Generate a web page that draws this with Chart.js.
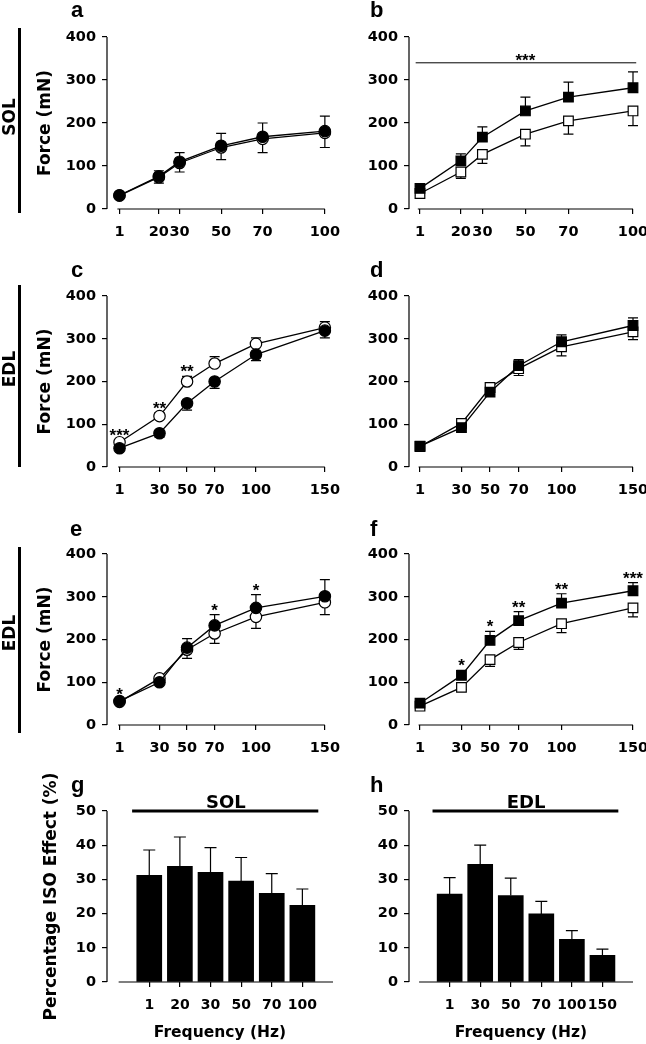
<!DOCTYPE html>
<html>
<head>
<meta charset="utf-8">
<script src="https://cdn.jsdelivr.net/npm/chart.js@4.4.0/dist/chart.umd.min.js"></script>
<style>
html, body { margin: 0; padding: 0; background: #fff; overflow: hidden; }
#fig { position: relative; width: 646px; height: 1044px; overflow: hidden; }
canvas { position: absolute; }
.lt { position: absolute; font: bold 22px "Liberation Sans", Arial, sans-serif; line-height: 22px; }
.side { position: absolute; font: bold 17px "DejaVu Sans"; line-height: 1; white-space: nowrap;
        transform: translate(-50%, -50%) rotate(-90deg); }
.rule { position: absolute; left: 18px; width: 3px; background: #000; }
</style>
</head>
<body>
<div id="fig">
  <canvas id="cA" width="350" height="250" style="left:0;top:0"></canvas>
  <canvas id="cB" width="340" height="250" style="left:323px;top:0"></canvas>
  <canvas id="cC" width="350" height="249" style="left:0;top:259px"></canvas>
  <canvas id="cD" width="340" height="249" style="left:323px;top:259px"></canvas>
  <canvas id="cE" width="350" height="249" style="left:0;top:517px"></canvas>
  <canvas id="cF" width="340" height="249" style="left:323px;top:517px"></canvas>
  <canvas id="cG" width="350" height="270" style="left:0;top:774px"></canvas>
  <canvas id="cH" width="340" height="270" style="left:323px;top:774px"></canvas>

  <div class="lt" style="left:71px;top:-1px">a</div>
  <div class="lt" style="left:370px;top:-1px">b</div>
  <div class="lt" style="left:71px;top:259px">c</div>
  <div class="lt" style="left:370px;top:259px">d</div>
  <div class="lt" style="left:70px;top:518px">e</div>
  <div class="lt" style="left:370px;top:518px">f</div>
  <div class="lt" style="left:71px;top:774px">g</div>
  <div class="lt" style="left:370px;top:774px">h</div>

  <div class="rule" style="top:28px;height:185px"></div>
  <div class="rule" style="top:285px;height:182px"></div>
  <div class="rule" style="top:547px;height:186px"></div>
  <div class="side" style="left:9px;top:117px">SOL</div>
  <div class="side" style="left:9px;top:369px">EDL</div>
  <div class="side" style="left:9px;top:633px">EDL</div>
</div>

<script>
// stimulation frequencies (Hz)
const solFreq = [1, 20, 30, 50, 70, 100];
const edlFreq = [1, 30, 50, 70, 100, 150];

// a - SOL, circles
const aFilled = [32, 76, 110, 147, 168, 181];
const aFilledSem = [4, 13, 21, 29, 32, 35];
const aOpen = [31, 74, 107, 143, 163, 177];
const aOpenSem = [4, 14, 21, 28, 32, 34];

// b - SOL, squares
const bFilled = [48, 112, 167, 228, 260, 282];
const bFilledSem = [5, 16, 24, 32, 35, 37];
const bOpen = [36, 86, 127, 174, 205, 228];
const bOpenSem = [4, 15, 21, 27, 31, 34];

// c - EDL, circles
const cOpen = [58, 119, 200, 242, 288, 326];
const cOpenSem = [5, 8, 12, 16, 14, 14];
const cFilled = [44, 79, 149, 200, 263, 319];
const cFilledSem = [4, 9, 16, 16, 14, 17];
const cStars = ['***', '**', '**', '', '', ''];

// d - EDL, squares
const dFilled = [49, 92, 175, 237, 293, 331];
const dFilledSem = [5, 6, 15, 14, 16, 18];
const dOpen = [48, 102, 186, 230, 281, 316];
const dOpenSem = [5, 6, 16, 16, 21, 18];

// e - EDL, circles
const eFilled = [56, 100, 181, 233, 274, 301];
const eFilledSem = [4, 5, 21, 25, 31, 39];
const eOpen = [54, 109, 176, 214, 253, 287];
const eOpenSem = [4, 6, 20, 23, 27, 29];
const eStars = ['*', '', '', '*', '*', ''];

// f - EDL, squares
const fFilled = [51, 116, 198, 244, 285, 314];
const fFilledSem = [5, 12, 21, 21, 22, 19];
const fOpen = [44, 88, 153, 193, 237, 274];
const fOpenSem = [4, 5, 16, 16, 21, 21];
const fStars = ['', '*', '*', '**', '**', '***'];

// g / h - percentage ISO effect
const gLabels = ['1', '20', '30', '50', '70', '100'];
const gValues = [31.2, 33.8, 32.1, 29.5, 25.9, 22.4];
const gSem = [7.4, 8.6, 7.2, 6.9, 5.8, 4.8];
const hLabels = ['1', '30', '50', '70', '100', '150'];
const hValues = [25.7, 34.4, 25.3, 19.9, 12.5, 7.8];
const hSem = [4.8, 5.6, 5.1, 3.7, 2.5, 1.8];

Chart.defaults.font.family = 'DejaVu Sans';
Chart.defaults.font.weight = 'bold';
Chart.defaults.font.size = 14.5;
Chart.defaults.color = '#000';
Chart.defaults.animation = false;
Chart.defaults.plugins.legend.display = false;
Chart.defaults.plugins.tooltip.enabled = false;

// axes drawn apart from each other, error bars, stars, brackets
const decor = {
    id: 'decor',
    beforeDatasetsDraw(chart, args, o) {
        const ctx = chart.ctx, xs = chart.scales.x, ys = chart.scales.y, a = chart.chartArea;
        ctx.save();
        ctx.strokeStyle = '#000';
        ctx.lineWidth = 1.2;
        ctx.beginPath();
        ctx.moveTo(a.left, ys.getPixelForValue(ys.max));
        ctx.lineTo(a.left, a.bottom);
        ctx.moveTo(xs.getPixelForValue(o.axisFrom), a.bottom);
        ctx.lineTo(a.right, a.bottom);
        ctx.stroke();

        chart.data.datasets.forEach((d, di) => {
            const meta = chart.getDatasetMeta(di);
            meta.data.forEach((el, i) => {
                const v = d.data[i].y;
                const y0 = ys.getPixelForValue(v);
                const y1 = ys.getPixelForValue(v + d.dir * d.sem[i]);
                ctx.beginPath();
                ctx.moveTo(el.x, y0);
                ctx.lineTo(el.x, y1);
                ctx.moveTo(el.x - d.cap, y1);
                ctx.lineTo(el.x + d.cap, y1);
                ctx.stroke();
            });
        });
        ctx.restore();
    },
    afterDatasetsDraw(chart, args, o) {
        const ctx = chart.ctx, xs = chart.scales.x, ys = chart.scales.y;
        ctx.save();
        ctx.fillStyle = '#000';
        ctx.textAlign = 'center';
        ctx.textBaseline = 'alphabetic';
        if (o.stars) {
            ctx.font = 'bold 17px "Liberation Sans"';
            o.stars.forEach((s, i) => {
                if (!s) return;
                let top = -Infinity;
                chart.data.datasets.forEach(d => {
                    top = Math.max(top, d.data[i].y + (d.dir > 0 ? d.sem[i] : 0));
                });
                const x = xs.getPixelForValue(chart.data.datasets[0].data[i].x);
                ctx.fillText(s, x, ys.getPixelForValue(top) + 1);
            });
        }
        if (o.bracket) {
            const b = o.bracket;
            const y = ys.getPixelForValue(b.at);
            ctx.strokeStyle = '#000';
            ctx.lineWidth = b.width;
            ctx.beginPath();
            ctx.moveTo(xs.getPixelForValue(b.from), y);
            ctx.lineTo(xs.getPixelForValue(b.to), y);
            ctx.stroke();
            ctx.font = b.font;
            ctx.fillText(b.text, xs.getPixelForValue(b.textAt), y + b.dy);
        }
        ctx.restore();
    }
};

function yAxis(max, step, title, padLeft, axisX) {
    return {
        min: 0, max: max,
        ticks: { stepSize: step, padding: 6 },
        grid: { display: true, drawOnChartArea: false, tickLength: 5, color: '#000', lineWidth: 1.2 },
        border: { display: false },
        title: { display: !!title, text: title, font: { size: 17 }, padding: 0 },
        afterFit: s => { s.width = axisX - padLeft; }
    };
}

function xAxis(min, max, vals, labelFn, height, title) {
    return {
        type: 'linear', min: min, max: max, offset: false,
        afterBuildTicks: s => { s.ticks = vals.map(v => ({ value: v })); },
        ticks: { autoSkip: false, maxRotation: 0, padding: 10, callback: labelFn },
        grid: { display: true, drawOnChartArea: false, offset: false, tickLength: 5, color: '#000', lineWidth: 1.2 },
        border: { display: false },
        title: { display: !!title, text: title, font: { size: 15.5 }, padding: { top: 0, bottom: 2 } },
        afterFit: s => { s.height = height; }
    };
}

function series(values, sem, dir, freqs, shape, fill) {
    return {
        data: values.map((v, i) => ({ x: freqs[i], y: v })),
        sem: sem, dir: dir, cap: 5,
        borderColor: '#000', borderWidth: 1.3, tension: 0, clip: false,
        pointStyle: shape, pointRadius: shape === 'rect' ? 6.8 : 5.7,
        pointBorderWidth: 1.2, pointBorderColor: '#000', pointBackgroundColor: fill
    };
}

// left column: y axis at 107, right column: y axis at 409
// (first dataset ends up drawn on top)
function lineChart(id, col, o) {
    const padLeft = col === 0 ? 35 : 0;
    const axisX = col === 0 ? 107 : 86;
    new Chart(document.getElementById(id), {
        type: 'line',
        data: { datasets: o.datasets },
        options: {
            responsive: false, devicePixelRatio: 1,
            layout: { padding: { top: 37, left: padLeft, right: col === 0 ? 16 : 30, bottom: 0 } },
            scales: {
                x: xAxis(o.xmin, o.xmax, o.freqs, v => v, 41, ''),
                y: yAxis(400, 100, col === 0 ? 'Force (mN)' : '', padLeft, axisX)
            },
            plugins: { decor: { axisFrom: 0, stars: o.stars, bracket: o.bracket } }
        },
        plugins: [decor]
    });
}

function barChart(id, col, o) {
    const padLeft = col === 0 ? 41 : 0;
    const axisX = col === 0 ? 107 : 86;
    const x = xAxis(o.xmin, 6, o.labels.map((l, i) => i), v => o.labels[v], 62, 'Frequency (Hz)');
    x.ticks.font = { size: 14 };
    new Chart(document.getElementById(id), {
        type: 'bar',
        data: {
            datasets: [{
                data: o.values.map((v, i) => ({ x: i, y: v })),
                sem: o.sem, dir: 1, cap: 6,
                backgroundColor: '#000', barThickness: 25, clip: false
            }]
        },
        options: {
            responsive: false, devicePixelRatio: 1,
            layout: { padding: { top: 37, left: padLeft, right: col === 0 ? 17 : 30, bottom: 0 } },
            scales: {
                x: x,
                y: yAxis(50, 10, col === 0 ? 'Percentage ISO Effect (%)' : '', padLeft, axisX)
            },
            plugins: { decor: { axisFrom: -1, bracket: o.bracket } }
        },
        plugins: [decor]
    });
}

lineChart('cA', 0, {
    freqs: solFreq, xmin: -5, xmax: 100,
    datasets: [series(aFilled, aFilledSem, 1, solFreq, 'circle', '#000'),
               series(aOpen, aOpenSem, -1, solFreq, 'circle', '#fff')]
});
lineChart('cB', 1, {
    freqs: solFreq, xmin: -4.1, xmax: 100,
    datasets: [series(bFilled, bFilledSem, 1, solFreq, 'rect', '#000'),
               series(bOpen, bOpenSem, -1, solFreq, 'rect', '#fff')],
    bracket: { from: -1, to: 101.5, at: 340, text: '***', textAt: 50, width: 1, font: 'bold 17px "Liberation Sans"', dy: 3 }
});
lineChart('cC', 0, {
    freqs: edlFreq, xmin: -8.1, xmax: 150,
    datasets: [series(cFilled, cFilledSem, -1, edlFreq, 'circle', '#000'),
               series(cOpen, cOpenSem, 1, edlFreq, 'circle', '#fff')],
    stars: cStars
});
lineChart('cD', 1, {
    freqs: edlFreq, xmin: -6.7, xmax: 150,
    datasets: [series(dFilled, dFilledSem, 1, edlFreq, 'rect', '#000'),
               series(dOpen, dOpenSem, -1, edlFreq, 'rect', '#fff')]
});
lineChart('cE', 0, {
    freqs: edlFreq, xmin: -8.1, xmax: 150,
    datasets: [series(eFilled, eFilledSem, 1, edlFreq, 'circle', '#000'),
               series(eOpen, eOpenSem, -1, edlFreq, 'circle', '#fff')],
    stars: eStars
});
lineChart('cF', 1, {
    freqs: edlFreq, xmin: -6.7, xmax: 150,
    datasets: [series(fFilled, fFilledSem, 1, edlFreq, 'rect', '#000'),
               series(fOpen, fOpenSem, -1, edlFreq, 'rect', '#fff')],
    stars: fStars
});
barChart('cG', 0, {
    labels: gLabels, values: gValues, sem: gSem, xmin: -1.38,
    bracket: { from: -0.56, to: 5.52, at: 50, text: 'SOL', textAt: 2.5, width: 3, font: 'bold 18px "DejaVu Sans"', dy: -3 }
});
barChart('cH', 1, {
    labels: hLabels, values: hValues, sem: hSem, xmin: -1.33,
    bracket: { from: -0.56, to: 5.52, at: 50, text: 'EDL', textAt: 2.5, width: 3, font: 'bold 18px "DejaVu Sans"', dy: -3 }
});
</script>
</body>
</html>
